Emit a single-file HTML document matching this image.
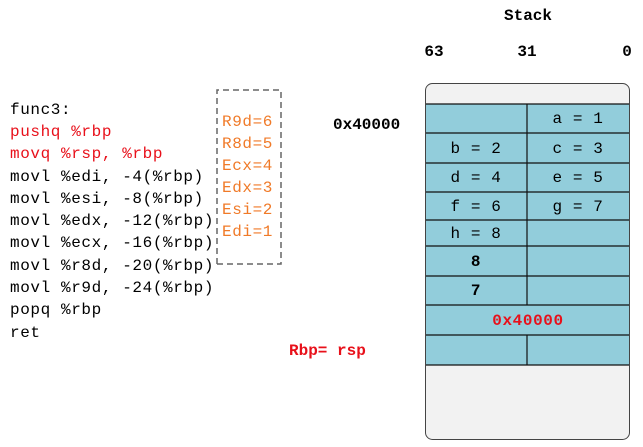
<!DOCTYPE html>
<html><head><style>
html,body{margin:0;padding:0;background:#fff;}
svg text{font-family:"Liberation Mono",monospace;}
</style></head><body>
<svg width="643" height="442" viewBox="0 0 643 442" xmlns="http://www.w3.org/2000/svg">
<rect x="0" y="0" width="643" height="442" fill="#fff"/>
<g font-size="16" letter-spacing="0.6" dominant-baseline="middle">
<text x="10" y="110" fill="#000">func3:</text>
<text x="10" y="132" fill="#e8101a">pushq %rbp</text>
<text x="10" y="154" fill="#e8101a">movq  %rsp, %rbp</text>
<text x="10" y="177" fill="#000">movl  %edi, -4(%rbp)</text>
<text x="10" y="199" fill="#000">movl  %esi, -8(%rbp)</text>
<text x="10" y="221" fill="#000">movl  %edx, -12(%rbp)</text>
<text x="10" y="243" fill="#000">movl  %ecx, -16(%rbp)</text>
<text x="10" y="266" fill="#000">movl  %r8d, -20(%rbp)</text>
<text x="10" y="288" fill="#000">movl  %r9d, -24(%rbp)</text>
<text x="10" y="310" fill="#000">popq  %rbp</text>
<text x="10" y="333" fill="#000">ret</text>
</g>
<path d="M217 264 V90 H281 V264 H217" fill="none" stroke="#666" stroke-width="1.5" stroke-dasharray="6,4"/>
<g font-size="16" fill="#f07a28" letter-spacing="0.6" dominant-baseline="middle">
<text x="222" y="122">R9d=6</text>
<text x="222" y="144">R8d=5</text>
<text x="222" y="166">Ecx=4</text>
<text x="222" y="188">Edx=3</text>
<text x="222" y="210">Esi=2</text>
<text x="222" y="232">Edi=1</text>
</g>
<g font-size="16" font-weight="bold" dominant-baseline="middle">
<text x="528" y="16" text-anchor="middle">Stack</text>
<text x="434" y="52" text-anchor="middle">63</text>
<text x="527" y="52" text-anchor="middle">31</text>
<text x="627" y="52" text-anchor="middle">0</text>
<text x="333" y="125">0x40000</text>
<text x="289" y="351" fill="#e8101a">Rbp=  rsp</text>
</g>
<rect x="425.5" y="83.5" width="204" height="356" rx="7" fill="#f2f2f2" stroke="#444" stroke-width="1"/>
<rect x="426" y="104" width="203" height="261" fill="#92cddb"/>
<g stroke="#111" stroke-width="1.2">
<line x1="426" y1="104" x2="629" y2="104"/>
<line x1="426" y1="133" x2="629" y2="133"/>
<line x1="426" y1="163" x2="629" y2="163"/>
<line x1="426" y1="192" x2="629" y2="192"/>
<line x1="426" y1="220" x2="629" y2="220"/>
<line x1="426" y1="246" x2="629" y2="246"/>
<line x1="426" y1="276" x2="629" y2="276"/>
<line x1="426" y1="305" x2="629" y2="305"/>
<line x1="426" y1="335" x2="629" y2="335"/>
<line x1="426" y1="365" x2="629" y2="365"/>
<line x1="527" y1="104" x2="527" y2="305"/>
<line x1="527" y1="335" x2="527" y2="365"/>
</g>
<g font-size="16" text-anchor="middle" dominant-baseline="middle" letter-spacing="0.6">
<text x="578" y="119">a = 1</text>
<text x="476" y="149">b = 2</text>
<text x="578" y="149">c = 3</text>
<text x="476" y="178">d = 4</text>
<text x="578" y="178">e = 5</text>
<text x="476" y="207">f = 6</text>
<text x="578" y="207">g = 7</text>
<text x="476" y="234">h = 8</text>
<text x="476" y="262" font-weight="bold">8</text>
<text x="476" y="291" font-weight="bold">7</text>
<text x="528" y="321" font-weight="bold" fill="#e8101a">0x40000</text>
</g>
</svg>
</body></html>
